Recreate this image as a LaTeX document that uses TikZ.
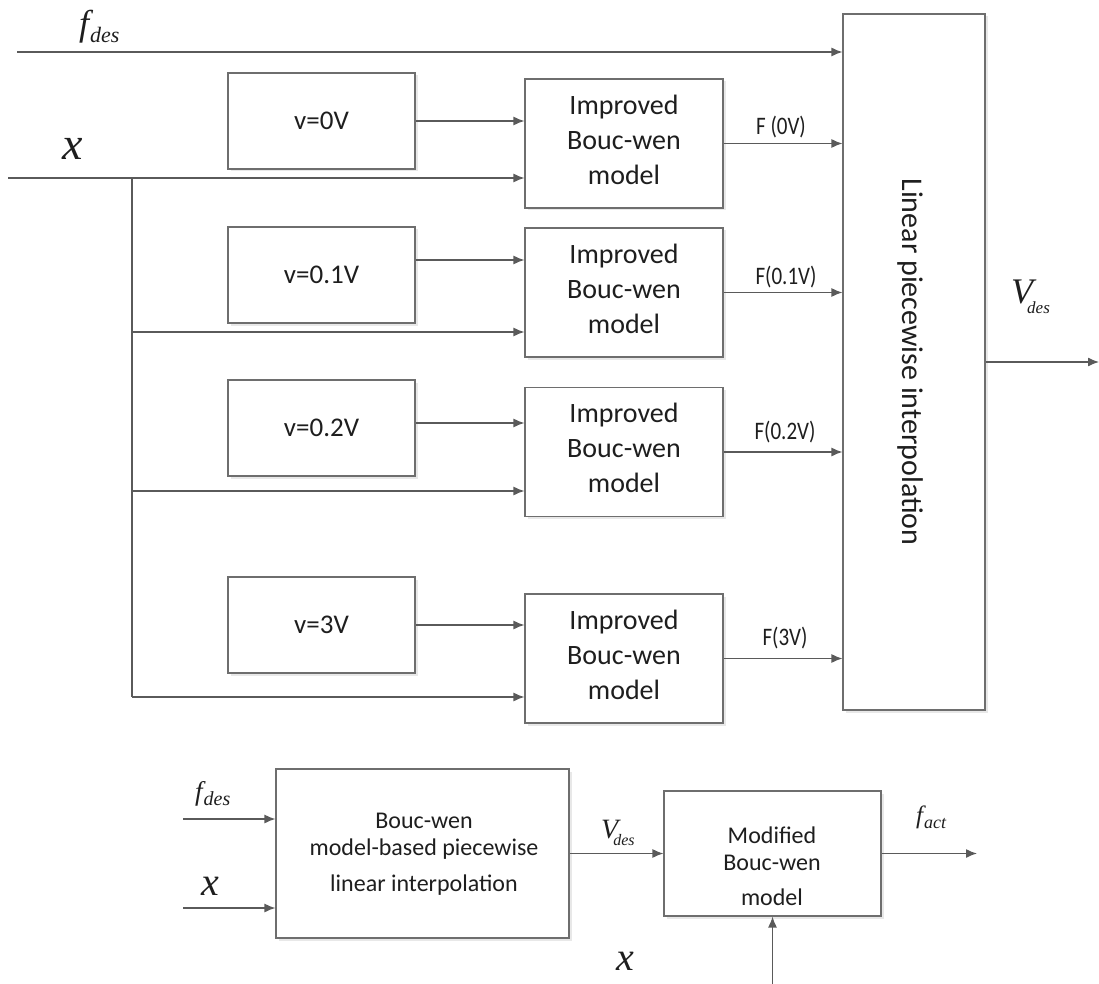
\documentclass[tikz,border=0pt]{standalone}
\usepackage{fontspec}
\setmainfont{Carlito}
\newfontfamily\tms{Liberation Serif}
\usetikzlibrary{arrows.meta}
\definecolor{wirec}{HTML}{5A5A5A}
\definecolor{boxc}{HTML}{6E6E6E}
\definecolor{txtc}{HTML}{1E1E1E}
% italic symbol with subscript: {main size}{sub size}{main}{sub}{kern}{drop}
\newcommand{\isym}[6]{{\tms\itshape\fontsize{#1}{#1}\selectfont #3\kern#5\raisebox{#6}{\fontsize{#2}{#2}\selectfont #4}}}
\newcommand{\ivar}[2]{{\tms\itshape\fontsize{#1}{#1}\selectfont #2}}
\newcommand{\tallF}[1]{\scalebox{1}[1.2]{#1}}
\tikzset{
  x=1pt, y=-1pt,
  blk/.style={draw=boxc, line width=1.1pt, fill=white, inner sep=0pt,
    preaction={fill=black!9, transform canvas={xshift=2.5pt,yshift=-2.5pt}}},
  txt/.style={text=txtc, align=center, inner sep=0pt},
  wire/.style={draw=wirec, line width=1.3pt},
  arr/.style={wire, -{Latex[length=11pt,width=9pt]}},
  sym/.style={anchor=base west, inner sep=0pt, text=txtc},
  flab/.style={txt, font=\fontsize{21}{21}\selectfont},
}
\begin{document}
\begin{tikzpicture}
\useasboundingbox (0,0) rectangle (1099,984);

% ---------- top diagram ----------
\node[blk, minimum width=142, minimum height=696] (big) at (914,362) {};
\node[txt, rotate=-90, font=\fontsize{30}{30}\selectfont] (bigt) at (910,362) {Linear piecewise interpolation};

\foreach \n/\yc/\t in {0/121/v=0V, 1/275/v=0.1V, 2/428/v=0.2V, 3/625/v=3V}{
  \node[blk, minimum width=187, minimum height=96, txt, font=\fontsize{27}{27}\selectfont] (v\n) at (321.5,\yc) {\t};
}
\foreach \n/\yc in {0/143.5, 1/292.5, 2/452, 3/658.5}{
  \node[blk, minimum width=198, minimum height=129] (b\n) at (624,\yc) {};
  \node[txt, font=\fontsize{28}{35}\selectfont] (bt\n) at (624,\yc-4) {Improved\\Bouc-wen\\model};
}

% f_des input
\coordinate (fin) at (17,52);
\draw[arr] (fin) -- (big.west |- fin);
\node[sym] (lfd) at (79,36) {\isym{36pt}{22pt}{f}{des}{1pt}{-7pt}};

% x input and distribution
\coordinate (xin) at (8,178);
\coordinate (xj0) at (132,178);
\coordinate (xj1) at (132,332);
\coordinate (xj2) at (132,491);
\coordinate (xj3) at (132,697);
\draw[arr] (xin) -- (b0.west |- xin);
\draw[wire] (xj0) -- (xj3);
\draw[arr] (xj1) -- (b1.west |- xj1);
\draw[arr] (xj2) -- (b2.west |- xj2);
\draw[arr] (xj3) -- (b3.west |- xj3);
\node[sym] (lx) at (62,160) {\ivar{46pt}{x}};

% v boxes to Bouc-wen boxes
\draw[arr] (v0.east |- 0,121) -- (b0.west |- 0,121);
\draw[arr] (v1.east |- 0,260) -- (b1.west |- 0,260);
\draw[arr] (v2.east |- 0,423) -- (b2.west |- 0,423);
\draw[arr] (v3.east |- 0,625) -- (b3.west |- 0,625);

% outputs into interpolation block
\draw[arr] (b0.east) -- (big.west |- b0.east);
\draw[arr] (b1.east) -- (big.west |- b1.east);
\draw[arr] (b2.east) -- (big.west |- b2.east);
\draw[arr] (b3.east) -- (big.west |- b3.east);
\node[flab] (lf0) at (781,127) {\tallF{F (0V)}};
\node[flab] (lf1) at (786,277) {\tallF{F(0.1V)}};
\node[flab] (lf2) at (785,432) {\tallF{F(0.2V)}};
\node[flab] (lf3) at (785,638) {\tallF{F(3V)}};

% V_des output
\coordinate (vout) at (1099,362);
\draw[arr] (big.east) -- (vout);
\node[sym] (lvd) at (1011,303) {\isym{36pt}{17pt}{V}{des}{-6pt}{-10pt}};

% ---------- bottom diagram ----------
\node[blk, minimum width=293, minimum height=169] (L) at (422.5,853.5) {};
\node[txt, font=\fontsize{24}{30}\selectfont] (Lt) at (424,854) {Bouc-wen\\[-3pt]model-based piecewise\\[6pt]linear interpolation};
\node[blk, minimum width=217, minimum height=125] (M) at (772.5,853.5) {};
\node[txt, font=\fontsize{24}{30}\selectfont] (Mt) at (772,866) {Modified\\[-3pt]Bouc-wen\\[5pt]model};

\coordinate (bfin) at (183,819);
\coordinate (bxin) at (183,908);
\draw[arr] (bfin) -- (L.west |- bfin);
\draw[arr] (bxin) -- (L.west |- bxin);
\node[sym] (blfd) at (195,800) {\isym{27pt}{20pt}{f}{des}{1pt}{-5pt}};
\node[sym] (blx) at (201,895) {\ivar{40pt}{x}};

\draw[arr] (L.east) -- (M.west);
\node[sym] (blvd) at (601,838) {\isym{28pt}{16pt}{V}{des}{-5pt}{-7pt}};

\coordinate (fout) at (977,853.5);
\draw[arr] (M.east) -- (fout);
\node[sym] (lfa) at (916,823) {\isym{25pt}{18pt}{f}{act}{1pt}{-5pt}};

\coordinate (mxin) at (772.5,984);
\draw[arr] (mxin) -- (M.south);
\node[sym] (blx2) at (616,970) {\ivar{40pt}{x}};
\end{tikzpicture}
\end{document}
